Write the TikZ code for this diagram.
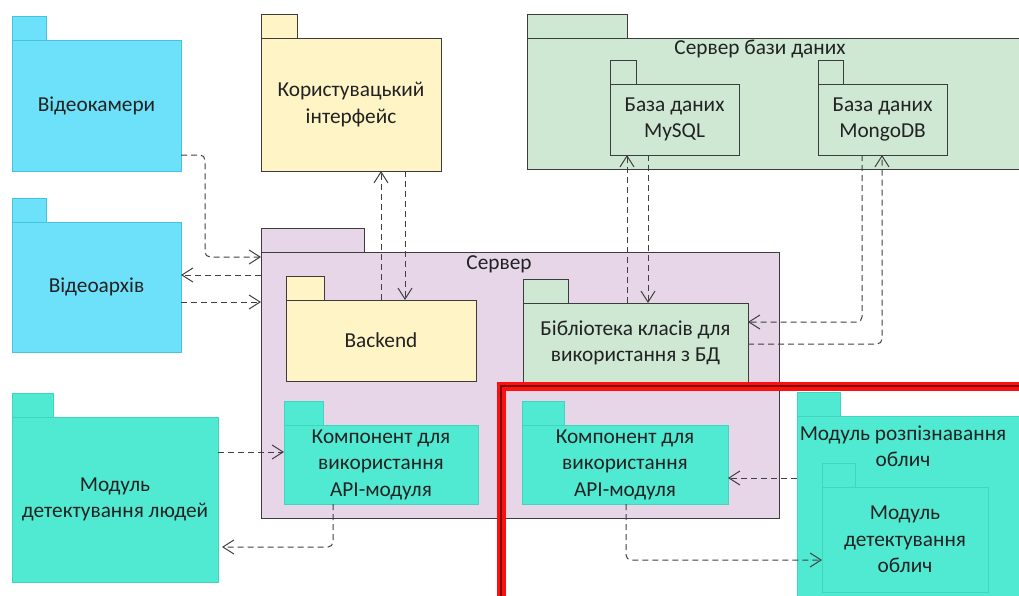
\documentclass[tikz,border=0pt]{standalone}
\usepackage{fontspec}
\setmainfont{Carlito}
\usetikzlibrary{arrows.meta}

\definecolor{cyanfill}{HTML}{6DE1F9}
\definecolor{cyanline}{HTML}{45C4DF}
\definecolor{yelfill}{HTML}{FFF4C6}
\definecolor{greenfill}{HTML}{CEE8D4}
\definecolor{purplefill}{HTML}{E6D6E8}
\definecolor{turqfill}{HTML}{50EAD3}
\definecolor{turqline}{HTML}{3ED6BE}
\definecolor{edge}{HTML}{3C3C3C}
\definecolor{ink}{HTML}{222222}
\definecolor{depline}{HTML}{404040}
\definecolor{hlred}{HTML}{FF1010}
\definecolor{hldark}{HTML}{7A0000}

% #1 node name, #2 style, #3 x, #4 y (top of body), #5 width, #6 height, #7 tab width, #8 label
\newcommand\pkgbox[8]{%
  \draw[#2] (#3,#4-24) rectangle ++(#7,24);
  \node[#2, anchor=north west, minimum width=#5pt, minimum height=#6pt] (#1) at (#3,#4) {#8};
}

\begin{document}
\begin{tikzpicture}[x=1pt,y=-1pt,
  every node/.style={inner sep=0pt, outer sep=0pt, align=center, text=ink,
    font=\fontsize{21.3}{26.5}\selectfont},
  pkgcyan/.style={draw=cyanline, fill=cyanfill, line width=1pt},
  pkgyel/.style={draw=edge, fill=yelfill, line width=1pt},
  pkggreen/.style={draw=edge, fill=greenfill, line width=1pt},
  pkgpurple/.style={draw=edge, fill=purplefill, line width=1pt},
  pkgturq/.style={draw=turqline, fill=turqfill, line width=1pt},
  dep/.style={draw=depline, line width=1pt, dash pattern=on 6pt off 4pt,
    rounded corners=5pt, -{Straight Barb[length=11pt,width=14pt]}},
]
\useasboundingbox (0,0) rectangle (1019,595);
\clip (0,0) rectangle (1019,595);

% external sources
\pkgbox{vk}{pkgcyan}{12}{40}{169}{131}{34}{Відеокамери}
\pkgbox{va}{pkgcyan}{12}{222}{169}{130}{34}{Відеоархів}

% user interface
\pkgbox{ui}{pkgyel}{261}{38}{180}{133}{36}{Користувацький\\інтерфейс}

% database server
\pkgbox{dbs}{pkggreen}{527}{38}{520}{131}{100}{}
\node at (760,49) (dbslabel) {Сервер бази даних};
\pkgbox{my}{pkggreen}{610}{84}{129}{71}{26}{База даних\\MySQL}
\pkgbox{mg}{pkggreen}{818}{84}{129}{71}{25}{База даних\\MongoDB}

% application server
\pkgbox{srv}{pkgpurple}{261}{252}{518}{266}{103}{}
\node at (499,264) (srvlabel) {Сервер};
\pkgbox{be}{pkgyel}{286}{300}{190}{81}{38}{Backend}
\pkgbox{lib}{pkggreen}{523}{303}{225}{80}{45}{Бібліотека класів для\\використання з БД}
\pkgbox{kl}{pkgturq}{284}{425}{194}{79}{39}{Компонент для\\використання\\API-модуля}
\pkgbox{kr}{pkgturq}{522}{425}{206}{79}{42}{Компонент для\\використання\\API-модуля}

% detection modules
\pkgbox{mdl}{pkgturq}{12}{417}{206}{165}{41}{Модуль\\детектування людей}
\pkgbox{mro}{pkgturq}{797}{416}{260}{200}{43}{}
\node at (903,446) (mrolabel) {Модуль розпізнавання\\облич};
\pkgbox{mdo}{pkgturq}{822}{487}{166}{105}{33}{Модуль\\детектування\\облич}

% highlight frame
\draw[hlred, line width=9pt] (501,386) rectangle (1040,610);
\draw[hldark, line width=1.6pt] (501,386) rectangle (1040,610);

% dependencies
\draw[dep] (vk.east |- 0,155) -| (205,257) -- (srv.west |- 0,257);
\draw[dep] (srv.west |- 0,275) -- (va.east |- 0,275);
\draw[dep] (va.east |- 0,302) -- (srv.west |- 0,302);
\draw[dep] (be.north -| 381,0) -- (ui.south -| 381,0);
\draw[dep] (ui.south -| 405,0) -- (be.north -| 405,0);
\draw[dep] (lib.north -| 627,0) -- (my.south -| 627,0);
\draw[dep] (my.south -| 648,0) -- (lib.north -| 648,0);
\draw[dep] (mg.south -| 862,0) |- (lib.east |- 0,322);
\draw[dep] (lib.east |- 0,344) -| (mg.south -| 882,0);
\draw[dep] (mdl.east |- 0,452) -- (kl.west |- 0,452);
\draw[dep, shorten >=4pt] (kl.south -| 333,0) |- (mdl.east |- 0,547);
\draw[dep] (mro.west |- 0,478) -- (kr.east |- 0,478);
\draw[dep] (kr.south -| 626,0) |- (mdo.west |- 0,560);
\end{tikzpicture}
\end{document}
